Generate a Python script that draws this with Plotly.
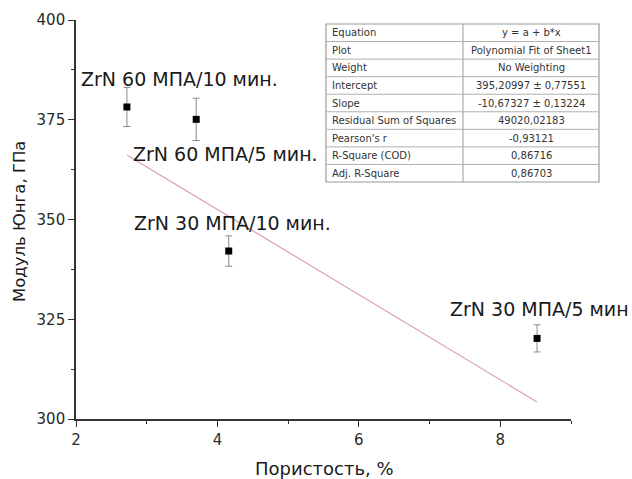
import plotly.graph_objects as go

# ---- data ----
porosity = [2.72, 3.70, 4.16, 8.52]
modulus = [378.2, 375.1, 342.1, 320.2]
modulus_err = [4.9, 5.3, 3.8, 3.4]
sample_labels = ["ZrN 60 МПА/10 мин.", "ZrN 60 МПА/5 мин.", "ZrN 30 МПА/10 мин.", "ZrN 30 МПА/5 мин"]
label_x = [3.46, 4.12, 4.22, 8.56]
label_y = [385.2, 366.4, 349.1, 327.6]

fit_intercept = 395.20997
fit_slope = -10.67327

table_labels = ["Equation", "Plot", "Weight", "Intercept", "Slope",
                "Residual Sum of Squares", "Pearson's r", "R-Square (COD)", "Adj. R-Square"]
table_values = ["y = a + b*x", "Polynomial Fit of Sheet1", "No Weighting",
                "395,20997 ± 0,77551", "-10,67327 ± 0,13224", "49020,02183",
                "-0,93121", "0,86716", "0,86703"]

x_ticks = [2, 4, 6, 8]
y_ticks = [300, 325, 350, 375, 400]

# ---- layout geometry (pixels in the 632x479 window) ----
W, H = 632, 479
L, R, T, B = 76, 571, 20, 419
FONT = "DejaVu Sans"

def px(xp):
    return (xp - L) / (R - L)

def py(yp):
    return (B - yp) / (B - T)

fig = go.Figure()

# fit line
fx = [min(porosity), max(porosity)]
fy = [fit_intercept + fit_slope * v for v in fx]
fig.add_trace(go.Scatter(x=fx, y=fy, mode="lines",
                         line=dict(color="#d9a3ab", width=1.2),
                         hoverinfo="skip", showlegend=False))

# data points with error bars
fig.add_trace(go.Scatter(x=porosity, y=modulus, mode="markers",
                         marker=dict(symbol="square", size=7, color="black"),
                         error_y=dict(type="data", array=modulus_err, visible=True,
                                      color="#8a8a8a", thickness=1, width=3.5),
                         showlegend=False))

annotations = []
for t, xv, yv in zip(sample_labels, label_x, label_y):
    annotations.append(dict(x=xv, y=yv, xref="x", yref="y", text=t, showarrow=False,
                            xanchor="center", yanchor="middle",
                            font=dict(family=FONT, size=19, color="#1a1a1a")))

# axis titles
annotations.append(dict(x=px(324), y=py(469), xref="paper", yref="paper",
                        text="Пористость, %", showarrow=False,
                        xanchor="center", yanchor="middle",
                        font=dict(family=FONT, size=18, color="#1a1a1a")))
annotations.append(dict(x=px(19), y=py(222), xref="paper", yref="paper",
                        text="Модуль Юнга, ГПа", showarrow=False, textangle=-90,
                        xanchor="center", yanchor="middle",
                        font=dict(family=FONT, size=16.5, color="#1a1a1a")))

# table
shapes = []
tx0, tx1, tdiv = 326, 599, 463
ty0, ty1 = 24, 182
n = len(table_labels)
rh = (ty1 - ty0) / n
shapes.append(dict(type="rect", xref="paper", yref="paper",
                   x0=px(tx0), x1=px(tx1), y0=py(ty1), y1=py(ty0),
                   line=dict(color="#9a9a9a", width=1.2), fillcolor="white", layer="above"))
shapes.append(dict(type="line", xref="paper", yref="paper",
                   x0=px(tdiv), x1=px(tdiv), y0=py(ty1), y1=py(ty0),
                   line=dict(color="#9a9a9a", width=1), layer="above"))
for i in range(1, n):
    yy = ty0 + i * rh
    shapes.append(dict(type="line", xref="paper", yref="paper",
                       x0=px(tx0), x1=px(tx1), y0=py(yy), y1=py(yy),
                       line=dict(color="#b0b0b0", width=1), layer="above"))
for i, (lab, val) in enumerate(zip(table_labels, table_values)):
    yc = ty0 + (i + 0.5) * rh
    annotations.append(dict(x=px(tx0 + 4), y=py(yc), xref="paper", yref="paper",
                            text=lab, showarrow=False, xanchor="left", yanchor="middle",
                            font=dict(family=FONT, size=10, color="#333333")))
    annotations.append(dict(x=px((tdiv + tx1) / 2), y=py(yc), xref="paper", yref="paper",
                            text=val, showarrow=False, xanchor="center", yanchor="middle",
                            font=dict(family=FONT, size=10, color="#333333")))

axis_common = dict(showgrid=False, zeroline=False, showline=True, linecolor="#333333",
                   linewidth=1.6, ticks="outside", tickcolor="#333333", tickwidth=1.3,
                   ticklen=6, tickfont=dict(family=FONT, size=15, color="#2a2a2a"),
                   mirror=False)

fig.update_layout(
    width=W, height=H,
    margin=dict(l=L, r=W - R, t=T, b=H - B, pad=0),
    plot_bgcolor="white", paper_bgcolor="white",
    xaxis=dict(range=[2, 9], tickvals=x_ticks, ticktext=[str(v) for v in x_ticks],
               minor=dict(dtick=1, tick0=1, ticks="outside", ticklen=3,
                          tickcolor="#333333", tickwidth=1.2),
               **axis_common),
    yaxis=dict(range=[300, 400], tickvals=y_ticks, ticktext=[str(v) for v in y_ticks],
               minor=dict(dtick=12.5, tick0=300, ticks="outside", ticklen=3,
                          tickcolor="#333333", tickwidth=1.2),
               **axis_common),
    annotations=annotations,
    shapes=shapes,
    showlegend=False,
    hovermode=False,
)

fig.write_html("out.html",
               config={"displayModeBar": False},
               post_script="document.body.style.margin='0';document.body.style.overflow='hidden';")
